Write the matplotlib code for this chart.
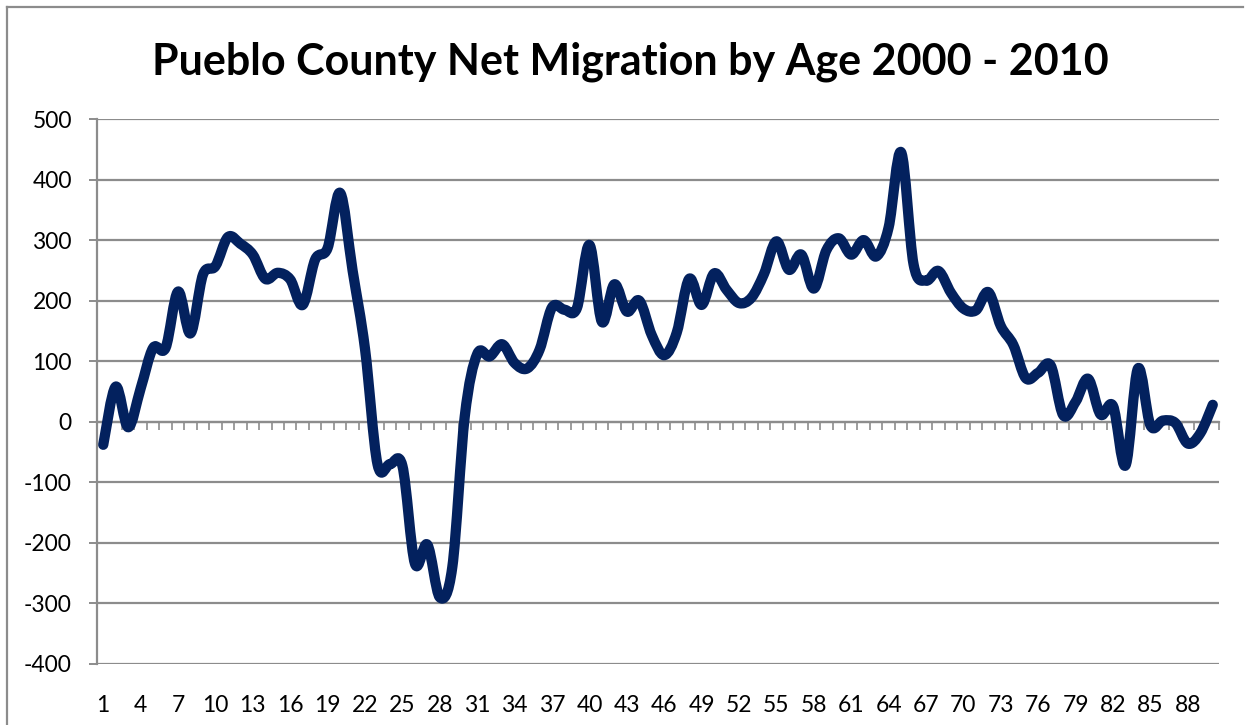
import numpy as np
import matplotlib
matplotlib.use("Agg")
import matplotlib.pyplot as plt
from matplotlib.path import Path
from matplotlib.patches import PathPatch
from matplotlib.lines import Line2D

# ---- data ----
ages = list(range(1, 91))
net_migration = [
    -38, 58, -9, 55, 122, 122, 215, 146, 243, 257,
    305, 294, 276, 236, 246, 235, 193, 268, 287, 378,
    250, 120, -70, -70, -73, -234, -203, -290, -240, 9,
    112, 108, 128, 97, 88, 119, 189, 185, 188, 292,
    165, 227, 182, 200, 143, 110, 147, 236, 193, 245,
    218, 196, 205, 244, 298, 251, 276, 220, 283, 303,
    276, 300, 273, 321, 445, 260, 233, 249, 213, 187,
    184, 214, 158, 127, 72, 81, 93, 11, 33, 71,
    12, 26, -72, 88, -6, 2, -2, -36, -19, 28,
]
y_ticks = list(range(-400, 501, 100))
x_label_ages = ages[::3]
title = "Pueblo County Net Migration by Age 2000 - 2010"

LINE = "#03215e"
GRID = "#8c8c8c"
plt.rcParams["font.family"] = ["Lato", "DejaVu Sans"]
plt.rcParams["axes.unicode_minus"] = False

fig = plt.figure(figsize=(12.53, 7.25), dpi=100)
ax = fig.add_axes([97 / 1253, 1 - 664 / 725, (1219 - 97) / 1253, (664 - 119) / 725])

ax.set_xlim(0.5, len(ages) + 0.5)
ax.set_ylim(-400, 500)

# horizontal gridlines
ax.set_yticks(y_ticks)
ax.yaxis.grid(True, color=GRID, lw=1.6)
ax.set_axisbelow(True)
for s in ["top", "right"]:
    ax.spines[s].set_visible(False)
ax.spines["left"].set_color(GRID)
ax.spines["left"].set_linewidth(1.6)
ax.tick_params(axis="y", direction="out", length=6, width=1.4, color=GRID,
               labelsize=16.5, pad=12, labelcolor="black")

# category axis drawn at y = 0 with tick marks at category boundaries
ax.spines["bottom"].set_position(("data", 0))
ax.spines["bottom"].set_color(GRID)
ax.spines["bottom"].set_linewidth(1.6)
ax.set_xticks(np.arange(0.5, len(ages) + 1, 1.0))
ax.set_xticklabels([])
ax.tick_params(axis="x", direction="out", length=6, width=1.2, color=GRID)

# category labels at the bottom of the plot
sec = ax.secondary_xaxis("bottom")
sec.spines["bottom"].set_visible(False)
sec.set_xticks(x_label_ages)
sec.set_xticklabels([str(a) for a in x_label_ages])
sec.tick_params(axis="x", length=0, labelsize=16.5, pad=22)

# smoothed line (Bezier through the points, like Excel's smoothed line)
pts = np.column_stack([ages, net_migration]).astype(float)
ext = np.vstack([pts[0], pts, pts[-1]])
verts = [pts[0]]
codes = [Path.MOVETO]
for i in range(len(pts) - 1):
    p0, p1, p2, p3 = ext[i], ext[i + 1], ext[i + 2], ext[i + 3]
    verts += [p1 + (p2 - p0) / 6.0, p2 - (p3 - p1) / 6.0, p2]
    codes += [Path.CURVE4] * 3
ax.add_patch(PathPatch(Path(verts, codes), fill=False, edgecolor=LINE, lw=7.4,
                       capstyle="round", joinstyle="round", zorder=5))

fig.text(630 / 1253, 1 - 62 / 725, title, ha="center", va="center",
         fontsize=31, fontweight="bold", color="black")

# chart-area border (left and top visible in the reference)
fig.add_artist(Line2D([7 / 1253, 7 / 1253], [0, 1 - 7 / 725], transform=fig.transFigure,
                      color=GRID, lw=1.6))
fig.add_artist(Line2D([7 / 1253, 1243 / 1253], [1 - 7 / 725, 1 - 7 / 725],
                      transform=fig.transFigure, color=GRID, lw=1.6))

fig.savefig("out.png", dpi=100)
